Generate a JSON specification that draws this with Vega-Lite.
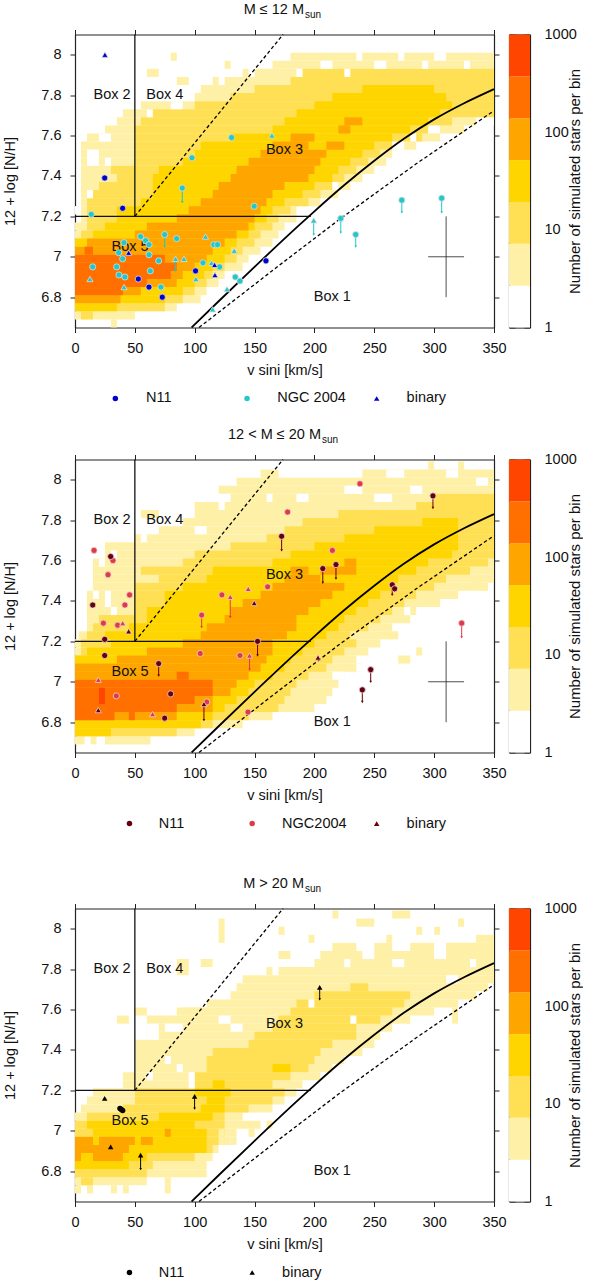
{"$schema":"https://vega.github.io/schema/vega-lite/v6.json","padding":{"left":2,"top":1.5,"right":0,"bottom":0},"config":{"font":"Liberation Sans","view":{"stroke":null},"axis":{"labelFont":"Liberation Sans","titleFont":"Liberation Sans","labelFontSize":14.5,"titleFontSize":14.5,"titleFontWeight":"normal","labelColor":"#111","titleColor":"#111","domainColor":"#222","tickColor":"#222","domainWidth":1.2,"tickWidth":1,"tickSize":5,"grid":false,"zindex":1,"labelFlush":false,"labelOverlap":false},"text":{"font":"Liberation Sans","fontSize":14.5,"color":"#111"}},
"datasets":{
"lines":[
{"g":"curve","v":97.4,"n":6.65},{"g":"curve","v":120,"n":6.78},{"g":"curve","v":150,"n":6.95},{"g":"curve","v":187,"n":7.155},{"g":"curve","v":200,"n":7.225},{"g":"curve","v":225,"n":7.355},{"g":"curve","v":250,"n":7.475},{"g":"curve","v":275,"n":7.585},{"g":"curve","v":300,"n":7.68},{"g":"curve","v":325,"n":7.76},{"g":"curve","v":350,"n":7.83},
{"g":"dl","v":103.6,"n":6.65},{"g":"dl","v":170,"n":6.955},{"g":"dl","v":222,"n":7.19},{"g":"dl","v":285,"n":7.46},{"g":"dl","v":350,"n":7.723},
{"g":"du","v":50,"n":7.2},{"g":"du","v":173.8,"n":8.1},
{"g":"vl","v":50,"n":7.2},{"g":"vl","v":50,"n":8.1},
{"g":"hl","v":0,"n":7.2},{"g":"hl","v":197,"n":7.2},
{"g":"ch","v":295,"n":7.0},{"g":"ch","v":325,"n":7.0},{"g":"cv","v":310,"n":6.8},{"g":"cv","v":310,"n":7.2}],
"boxes":[{"v":31,"n":7.8,"l":"Box 2"},{"v":75,"n":7.8,"l":"Box 4"},{"v":175,"n":7.53,"l":"Box 3"},{"v":46,"n":7.05,"l":"Box 5"},{"v":215,"n":6.8,"l":"Box 1"}],
"bands":[{"a":1,"b":2.68,"c":0,"x":0,"x2":1},{"a":2.68,"b":7.2,"c":1,"x":0,"x2":1},{"a":7.2,"b":19.3,"c":2,"x":0,"x2":1},{"a":19.3,"b":51.8,"c":3,"x":0,"x2":1},{"a":51.8,"b":139,"c":4,"x":0,"x2":1},{"a":139,"b":373,"c":5,"x":0,"x2":1},{"a":373,"b":1000,"c":6,"x":0,"x2":1}],
"h1":[
{"x":30,"x2":35,"y":6.65,"y2":6.69,"c":1},{"x":0,"x2":50,"y":6.69,"y2":6.73,"c":1},{"x":0,"x2":85,"y":6.73,"y2":6.77,"c":1},{"x":0,"x2":105,"y":6.77,"y2":6.81,"c":1},{"x":0,"x2":110,"y":6.81,"y2":6.85,"c":1},{"x":0,"x2":120,"y":6.85,"y2":6.89,"c":1},{"x":0,"x2":125,"y":6.89,"y2":6.93,"c":1},{"x":0,"x2":140,"y":6.93,"y2":6.97,"c":1},{"x":0,"x2":145,"y":6.97,"y2":7.01,"c":1},{"x":0,"x2":155,"y":7.01,"y2":7.05,"c":1},{"x":0,"x2":165,"y":7.05,"y2":7.09,"c":1},{"x":0,"x2":170,"y":7.09,"y2":7.13,"c":1},{"x":0,"x2":175,"y":7.13,"y2":7.17,"c":1},{"x":5,"x2":185,"y":7.17,"y2":7.21,"c":1},{"x":0,"x2":185,"y":7.21,"y2":7.25,"c":1},{"x":5,"x2":205,"y":7.25,"y2":7.29,"c":1},{"x":5,"x2":220,"y":7.29,"y2":7.33,"c":1},{"x":5,"x2":230,"y":7.33,"y2":7.37,"c":1},{"x":5,"x2":240,"y":7.37,"y2":7.41,"c":1},{"x":5,"x2":250,"y":7.41,"y2":7.45,"c":1},{"x":5,"x2":260,"y":7.45,"y2":7.49,"c":1},{"x":5,"x2":265,"y":7.49,"y2":7.53,"c":1},{"x":5,"x2":285,"y":7.53,"y2":7.57,"c":1},{"x":10,"x2":305,"y":7.57,"y2":7.61,"c":1},{"x":25,"x2":325,"y":7.61,"y2":7.65,"c":1},{"x":30,"x2":335,"y":7.65,"y2":7.69,"c":1},{"x":40,"x2":350,"y":7.69,"y2":7.73,"c":1},{"x":55,"x2":350,"y":7.73,"y2":7.77,"c":1},{"x":100,"x2":350,"y":7.77,"y2":7.81,"c":1},{"x":105,"x2":350,"y":7.81,"y2":7.85,"c":1},{"x":125,"x2":350,"y":7.85,"y2":7.89,"c":1},{"x":150,"x2":350,"y":7.89,"y2":7.93,"c":1},{"x":165,"x2":350,"y":7.93,"y2":7.97,"c":1},{"x":180,"x2":350,"y":7.97,"y2":8.01,"c":1},
{"x":5,"x2":15,"y":6.69,"y2":6.73,"c":2},{"x":0,"x2":75,"y":6.73,"y2":6.77,"c":2},{"x":0,"x2":90,"y":6.77,"y2":6.81,"c":2},{"x":0,"x2":100,"y":6.81,"y2":6.85,"c":2},{"x":0,"x2":110,"y":6.85,"y2":6.89,"c":2},{"x":0,"x2":115,"y":6.89,"y2":6.93,"c":2},{"x":0,"x2":125,"y":6.93,"y2":6.97,"c":2},{"x":0,"x2":135,"y":6.97,"y2":7.01,"c":2},{"x":0,"x2":140,"y":7.01,"y2":7.05,"c":2},{"x":0,"x2":150,"y":7.05,"y2":7.09,"c":2},{"x":5,"x2":155,"y":7.09,"y2":7.13,"c":2},{"x":10,"x2":165,"y":7.13,"y2":7.17,"c":2},{"x":10,"x2":170,"y":7.17,"y2":7.21,"c":2},{"x":10,"x2":180,"y":7.21,"y2":7.25,"c":2},{"x":10,"x2":195,"y":7.25,"y2":7.29,"c":2},{"x":15,"x2":205,"y":7.29,"y2":7.33,"c":2},{"x":20,"x2":215,"y":7.33,"y2":7.37,"c":2},{"x":35,"x2":225,"y":7.37,"y2":7.41,"c":2},{"x":30,"x2":235,"y":7.41,"y2":7.45,"c":2},{"x":50,"x2":245,"y":7.45,"y2":7.49,"c":2},{"x":50,"x2":255,"y":7.49,"y2":7.53,"c":2},{"x":50,"x2":270,"y":7.53,"y2":7.57,"c":2},{"x":50,"x2":290,"y":7.57,"y2":7.61,"c":2},{"x":50,"x2":305,"y":7.61,"y2":7.65,"c":2},{"x":55,"x2":315,"y":7.65,"y2":7.69,"c":2},{"x":60,"x2":350,"y":7.69,"y2":7.73,"c":2},{"x":100,"x2":350,"y":7.73,"y2":7.77,"c":2},{"x":130,"x2":350,"y":7.77,"y2":7.81,"c":2},{"x":150,"x2":350,"y":7.81,"y2":7.85,"c":2},{"x":180,"x2":350,"y":7.85,"y2":7.89,"c":2},{"x":190,"x2":350,"y":7.89,"y2":7.93,"c":2},
{"x":0,"x2":35,"y":6.73,"y2":6.77,"c":3},{"x":0,"x2":75,"y":6.77,"y2":6.81,"c":3},{"x":0,"x2":90,"y":6.81,"y2":6.85,"c":3},{"x":0,"x2":100,"y":6.85,"y2":6.89,"c":3},{"x":0,"x2":108,"y":6.89,"y2":6.93,"c":3},{"x":0,"x2":115,"y":6.93,"y2":6.97,"c":3},{"x":0,"x2":125,"y":6.97,"y2":7.01,"c":3},{"x":0,"x2":130,"y":7.01,"y2":7.05,"c":3},{"x":0,"x2":135,"y":7.05,"y2":7.09,"c":3},{"x":15,"x2":145,"y":7.09,"y2":7.13,"c":3},{"x":25,"x2":150,"y":7.13,"y2":7.17,"c":3},{"x":35,"x2":160,"y":7.17,"y2":7.21,"c":3},{"x":35,"x2":165,"y":7.21,"y2":7.25,"c":3},{"x":55,"x2":175,"y":7.25,"y2":7.29,"c":3},{"x":65,"x2":190,"y":7.29,"y2":7.33,"c":3},{"x":65,"x2":200,"y":7.33,"y2":7.37,"c":3},{"x":65,"x2":215,"y":7.37,"y2":7.41,"c":3},{"x":70,"x2":220,"y":7.41,"y2":7.45,"c":3},{"x":90,"x2":230,"y":7.45,"y2":7.49,"c":3},{"x":100,"x2":240,"y":7.49,"y2":7.53,"c":3},{"x":105,"x2":250,"y":7.53,"y2":7.57,"c":3},{"x":130,"x2":265,"y":7.57,"y2":7.61,"c":3},{"x":165,"x2":280,"y":7.61,"y2":7.65,"c":3},{"x":175,"x2":295,"y":7.65,"y2":7.69,"c":3},{"x":185,"x2":305,"y":7.69,"y2":7.73,"c":3},{"x":200,"x2":315,"y":7.73,"y2":7.77,"c":3},{"x":215,"x2":310,"y":7.77,"y2":7.81,"c":3},{"x":240,"x2":300,"y":7.81,"y2":7.85,"c":3},
{"x":0,"x2":38,"y":6.77,"y2":6.81,"c":4},{"x":0,"x2":55,"y":6.81,"y2":6.85,"c":4},{"x":0,"x2":85,"y":6.85,"y2":6.89,"c":4},{"x":0,"x2":90,"y":6.89,"y2":6.93,"c":4},{"x":0,"x2":100,"y":6.93,"y2":6.97,"c":4},{"x":0,"x2":110,"y":6.97,"y2":7.01,"c":4},{"x":0,"x2":115,"y":7.01,"y2":7.05,"c":4},{"x":10,"x2":125,"y":7.05,"y2":7.09,"c":4},{"x":50,"x2":135,"y":7.09,"y2":7.13,"c":4},{"x":60,"x2":145,"y":7.13,"y2":7.17,"c":4},{"x":85,"x2":150,"y":7.17,"y2":7.21,"c":4},{"x":95,"x2":155,"y":7.21,"y2":7.25,"c":4},{"x":105,"x2":160,"y":7.25,"y2":7.29,"c":4},{"x":115,"x2":165,"y":7.29,"y2":7.33,"c":4},{"x":120,"x2":175,"y":7.33,"y2":7.37,"c":4},{"x":130,"x2":195,"y":7.37,"y2":7.41,"c":4},{"x":135,"x2":200,"y":7.41,"y2":7.45,"c":4},{"x":145,"x2":205,"y":7.45,"y2":7.49,"c":4},{"x":155,"x2":210,"y":7.49,"y2":7.53,"c":4},{"x":165,"x2":195,"y":7.53,"y2":7.57,"c":4},{"x":210,"x2":225,"y":7.53,"y2":7.57,"c":4},{"x":180,"x2":200,"y":7.57,"y2":7.61,"c":4},{"x":220,"x2":230,"y":7.61,"y2":7.65,"c":4},{"x":225,"x2":240,"y":7.65,"y2":7.69,"c":4},
{"x":0,"x2":40,"y":6.81,"y2":6.85,"c":5},{"x":0,"x2":60,"y":6.85,"y2":6.89,"c":5},{"x":0,"x2":80,"y":6.89,"y2":6.93,"c":5},{"x":0,"x2":85,"y":6.93,"y2":6.97,"c":5},{"x":0,"x2":75,"y":6.97,"y2":7.01,"c":5},{"x":8,"x2":15,"y":7.01,"y2":7.05,"c":5},
{"x":0,"x2":5,"y":7.21,"y2":7.25,"c":0},{"x":10,"x2":15,"y":7.29,"y2":7.33,"c":0},{"x":10,"x2":20,"y":7.45,"y2":7.53,"c":0},{"x":25,"x2":30,"y":7.45,"y2":7.49,"c":0},{"x":20,"x2":30,"y":7.57,"y2":7.61,"c":0},{"x":30,"x2":35,"y":7.65,"y2":7.69,"c":0},{"x":60,"x2":65,"y":7.69,"y2":7.73,"c":0},{"x":80,"x2":90,"y":7.73,"y2":7.77,"c":0},{"x":115,"x2":120,"y":7.85,"y2":7.89,"c":1},{"x":140,"x2":145,"y":7.89,"y2":7.93,"c":1},{"x":80,"x2":85,"y":7.97,"y2":8.01,"c":1},{"x":60,"x2":70,"y":7.89,"y2":7.93,"c":1},{"x":85,"x2":95,"y":7.85,"y2":7.89,"c":1},{"x":125,"x2":130,"y":7.93,"y2":7.97,"c":1},{"x":185,"x2":190,"y":7.89,"y2":7.93,"c":0},{"x":205,"x2":215,"y":7.93,"y2":7.97,"c":0},{"x":225,"x2":230,"y":7.89,"y2":7.93,"c":0},{"x":235,"x2":240,"y":7.97,"y2":8.01,"c":0},{"x":250,"x2":260,"y":7.93,"y2":7.97,"c":0},{"x":270,"x2":275,"y":7.97,"y2":8.01,"c":0},{"x":290,"x2":295,"y":7.93,"y2":7.97,"c":0},{"x":300,"x2":310,"y":7.97,"y2":8.01,"c":0},{"x":325,"x2":330,"y":7.93,"y2":7.97,"c":0},{"x":345,"x2":350,"y":7.65,"y2":7.69,"c":0},{"x":280,"x2":285,"y":7.57,"y2":7.61,"c":0},{"x":265,"x2":275,"y":7.53,"y2":7.57,"c":0},{"x":295,"x2":305,"y":7.61,"y2":7.65,"c":0},{"x":215,"x2":220,"y":7.33,"y2":7.37,"c":0}],
"h2":[
{"x":0,"x2":8,"y":6.69,"y2":6.73,"c":1},{"x":13,"x2":18,"y":6.69,"y2":6.73,"c":1},{"x":25,"x2":63,"y":6.69,"y2":6.73,"c":1},{"x":0,"x2":100,"y":6.73,"y2":6.77,"c":1},{"x":0,"x2":140,"y":6.77,"y2":6.81,"c":1},{"x":0,"x2":165,"y":6.81,"y2":6.85,"c":1},{"x":0,"x2":200,"y":6.85,"y2":6.89,"c":1},{"x":0,"x2":210,"y":6.89,"y2":6.93,"c":1},{"x":0,"x2":215,"y":6.93,"y2":6.97,"c":1},{"x":0,"x2":220,"y":6.97,"y2":7.01,"c":1},{"x":0,"x2":225,"y":7.01,"y2":7.05,"c":1},{"x":0,"x2":240,"y":7.05,"y2":7.09,"c":1},{"x":0,"x2":235,"y":7.09,"y2":7.13,"c":1},{"x":0,"x2":245,"y":7.13,"y2":7.17,"c":1},{"x":0,"x2":255,"y":7.17,"y2":7.21,"c":1},{"x":3,"x2":265,"y":7.21,"y2":7.25,"c":1},{"x":10,"x2":265,"y":7.25,"y2":7.29,"c":1},{"x":10,"x2":280,"y":7.29,"y2":7.33,"c":1},{"x":10,"x2":285,"y":7.33,"y2":7.37,"c":1},{"x":10,"x2":305,"y":7.37,"y2":7.41,"c":1},{"x":10,"x2":320,"y":7.41,"y2":7.45,"c":1},{"x":15,"x2":335,"y":7.45,"y2":7.49,"c":1},{"x":15,"x2":350,"y":7.49,"y2":7.53,"c":1},{"x":15,"x2":350,"y":7.53,"y2":7.57,"c":1},{"x":15,"x2":350,"y":7.57,"y2":7.61,"c":1},{"x":25,"x2":350,"y":7.61,"y2":7.65,"c":1},{"x":25,"x2":350,"y":7.65,"y2":7.69,"c":1},{"x":50,"x2":350,"y":7.69,"y2":7.73,"c":1},{"x":70,"x2":350,"y":7.73,"y2":7.77,"c":1},{"x":90,"x2":350,"y":7.77,"y2":7.81,"c":1},{"x":55,"x2":70,"y":7.81,"y2":7.85,"c":1},{"x":100,"x2":350,"y":7.81,"y2":7.85,"c":1},{"x":100,"x2":350,"y":7.85,"y2":7.89,"c":1},{"x":130,"x2":350,"y":7.89,"y2":7.93,"c":1},{"x":120,"x2":350,"y":7.93,"y2":7.97,"c":1},{"x":135,"x2":350,"y":7.97,"y2":8.01,"c":1},{"x":155,"x2":170,"y":8.01,"y2":8.05,"c":1},{"x":240,"x2":350,"y":8.01,"y2":8.05,"c":1},{"x":295,"x2":300,"y":8.05,"y2":8.09,"c":1},{"x":320,"x2":325,"y":8.05,"y2":8.09,"c":1},
{"x":0,"x2":85,"y":6.73,"y2":6.77,"c":2},{"x":0,"x2":115,"y":6.77,"y2":6.81,"c":2},{"x":0,"x2":145,"y":6.81,"y2":6.85,"c":2},{"x":0,"x2":170,"y":6.85,"y2":6.89,"c":2},{"x":0,"x2":175,"y":6.89,"y2":6.93,"c":2},{"x":0,"x2":180,"y":6.93,"y2":6.97,"c":2},{"x":0,"x2":185,"y":6.97,"y2":7.01,"c":2},{"x":0,"x2":195,"y":7.01,"y2":7.05,"c":2},{"x":0,"x2":210,"y":7.05,"y2":7.09,"c":2},{"x":0,"x2":215,"y":7.09,"y2":7.13,"c":2},{"x":5,"x2":225,"y":7.13,"y2":7.17,"c":2},{"x":5,"x2":235,"y":7.17,"y2":7.21,"c":2},{"x":10,"x2":230,"y":7.21,"y2":7.25,"c":2},{"x":15,"x2":245,"y":7.25,"y2":7.29,"c":2},{"x":20,"x2":255,"y":7.29,"y2":7.33,"c":2},{"x":50,"x2":265,"y":7.33,"y2":7.37,"c":2},{"x":50,"x2":275,"y":7.37,"y2":7.41,"c":2},{"x":50,"x2":285,"y":7.41,"y2":7.45,"c":2},{"x":50,"x2":300,"y":7.45,"y2":7.49,"c":2},{"x":70,"x2":310,"y":7.49,"y2":7.53,"c":2},{"x":55,"x2":330,"y":7.53,"y2":7.57,"c":2},{"x":90,"x2":345,"y":7.57,"y2":7.61,"c":2},{"x":100,"x2":350,"y":7.61,"y2":7.65,"c":2},{"x":130,"x2":350,"y":7.65,"y2":7.69,"c":2},{"x":160,"x2":350,"y":7.69,"y2":7.73,"c":2},{"x":175,"x2":350,"y":7.73,"y2":7.77,"c":2},{"x":190,"x2":350,"y":7.77,"y2":7.81,"c":2},{"x":220,"x2":350,"y":7.81,"y2":7.85,"c":2},{"x":285,"x2":350,"y":7.85,"y2":7.89,"c":2},{"x":300,"x2":350,"y":7.89,"y2":7.93,"c":2},
{"x":0,"x2":30,"y":6.73,"y2":6.77,"c":3},{"x":0,"x2":105,"y":6.77,"y2":6.81,"c":3},{"x":0,"x2":115,"y":6.81,"y2":6.85,"c":3},{"x":0,"x2":125,"y":6.85,"y2":6.89,"c":3},{"x":0,"x2":135,"y":6.89,"y2":6.93,"c":3},{"x":0,"x2":145,"y":6.93,"y2":6.97,"c":3},{"x":0,"x2":150,"y":6.97,"y2":7.01,"c":3},{"x":0,"x2":165,"y":7.01,"y2":7.05,"c":3},{"x":0,"x2":175,"y":7.05,"y2":7.09,"c":3},{"x":0,"x2":180,"y":7.09,"y2":7.13,"c":3},{"x":10,"x2":190,"y":7.13,"y2":7.17,"c":3},{"x":30,"x2":200,"y":7.17,"y2":7.21,"c":3},{"x":25,"x2":210,"y":7.21,"y2":7.25,"c":3},{"x":45,"x2":220,"y":7.25,"y2":7.29,"c":3},{"x":60,"x2":225,"y":7.29,"y2":7.33,"c":3},{"x":60,"x2":235,"y":7.33,"y2":7.37,"c":3},{"x":75,"x2":245,"y":7.37,"y2":7.41,"c":3},{"x":75,"x2":255,"y":7.41,"y2":7.45,"c":3},{"x":90,"x2":265,"y":7.45,"y2":7.49,"c":3},{"x":110,"x2":270,"y":7.49,"y2":7.53,"c":3},{"x":115,"x2":285,"y":7.53,"y2":7.57,"c":3},{"x":165,"x2":295,"y":7.57,"y2":7.61,"c":3},{"x":180,"x2":315,"y":7.61,"y2":7.65,"c":3},{"x":200,"x2":320,"y":7.65,"y2":7.69,"c":3},{"x":225,"x2":320,"y":7.69,"y2":7.73,"c":3},{"x":250,"x2":320,"y":7.73,"y2":7.77,"c":3},{"x":290,"x2":320,"y":7.77,"y2":7.81,"c":3},
{"x":0,"x2":85,"y":6.81,"y2":6.85,"c":4},{"x":0,"x2":115,"y":6.85,"y2":6.89,"c":4},{"x":0,"x2":115,"y":6.89,"y2":6.93,"c":4},{"x":0,"x2":130,"y":6.93,"y2":6.97,"c":4},{"x":0,"x2":135,"y":6.97,"y2":7.01,"c":4},{"x":0,"x2":145,"y":7.01,"y2":7.05,"c":4},{"x":0,"x2":155,"y":7.05,"y2":7.09,"c":4},{"x":35,"x2":160,"y":7.09,"y2":7.13,"c":4},{"x":60,"x2":165,"y":7.13,"y2":7.17,"c":4},{"x":90,"x2":165,"y":7.17,"y2":7.21,"c":4},{"x":105,"x2":177,"y":7.21,"y2":7.25,"c":4},{"x":110,"x2":185,"y":7.25,"y2":7.29,"c":4},{"x":125,"x2":185,"y":7.29,"y2":7.33,"c":4},{"x":130,"x2":195,"y":7.33,"y2":7.37,"c":4},{"x":140,"x2":205,"y":7.37,"y2":7.41,"c":4},{"x":155,"x2":215,"y":7.41,"y2":7.45,"c":4},{"x":165,"x2":225,"y":7.45,"y2":7.49,"c":4},{"x":175,"x2":205,"y":7.49,"y2":7.53,"c":4},{"x":180,"x2":195,"y":7.53,"y2":7.57,"c":4},{"x":205,"x2":235,"y":7.53,"y2":7.57,"c":4},{"x":225,"x2":235,"y":7.57,"y2":7.61,"c":4},
{"x":0,"x2":33,"y":6.81,"y2":6.85,"c":5},{"x":45,"x2":50,"y":6.81,"y2":6.85,"c":5},{"x":0,"x2":85,"y":6.85,"y2":6.89,"c":5},{"x":0,"x2":100,"y":6.89,"y2":6.93,"c":5},{"x":0,"x2":115,"y":6.93,"y2":6.97,"c":5},{"x":0,"x2":115,"y":6.97,"y2":7.01,"c":5},{"x":85,"x2":95,"y":7.01,"y2":7.05,"c":5},
{"x":20,"x2":25,"y":6.89,"y2":6.97,"c":6},
{"x":15,"x2":20,"y":7.41,"y2":7.45,"c":0},{"x":25,"x2":30,"y":7.37,"y2":7.45,"c":0},{"x":30,"x2":35,"y":7.33,"y2":7.37,"c":0},{"x":20,"x2":25,"y":7.57,"y2":7.61,"c":0},{"x":30,"x2":35,"y":7.61,"y2":7.65,"c":0},{"x":55,"x2":60,"y":7.69,"y2":7.73,"c":0},{"x":100,"x2":110,"y":7.73,"y2":7.77,"c":0},{"x":120,"x2":125,"y":7.85,"y2":7.89,"c":0},{"x":160,"x2":165,"y":7.89,"y2":7.93,"c":0},{"x":185,"x2":195,"y":7.89,"y2":7.93,"c":0},{"x":225,"x2":240,"y":7.93,"y2":7.97,"c":0},{"x":250,"x2":265,"y":7.89,"y2":7.93,"c":0},{"x":280,"x2":290,"y":7.93,"y2":7.97,"c":0},{"x":310,"x2":320,"y":8.01,"y2":8.05,"c":0},{"x":260,"x2":275,"y":8.01,"y2":8.05,"c":0},{"x":335,"x2":345,"y":7.97,"y2":8.01,"c":0},{"x":275,"x2":280,"y":7.33,"y2":7.37,"c":0},{"x":235,"x2":245,"y":7.05,"y2":7.09,"c":0},{"x":215,"x2":225,"y":7.01,"y2":7.05,"c":0},{"x":260,"x2":270,"y":7.21,"y2":7.25,"c":1},{"x":270,"x2":280,"y":7.09,"y2":7.13,"c":1},{"x":285,"x2":290,"y":7.13,"y2":7.17,"c":1},{"x":330,"x2":340,"y":7.49,"y2":7.53,"c":1},{"x":335,"x2":345,"y":7.45,"y2":7.49,"c":1}],
"h3":[
{"x":0,"x2":5,"y":6.69,"y2":6.73,"c":1},{"x":10,"x2":15,"y":6.69,"y2":6.73,"c":1},{"x":30,"x2":35,"y":6.69,"y2":6.73,"c":1},{"x":40,"x2":45,"y":6.69,"y2":6.73,"c":1},{"x":75,"x2":80,"y":6.69,"y2":6.73,"c":1},{"x":0,"x2":60,"y":6.73,"y2":6.77,"c":1},{"x":75,"x2":80,"y":6.73,"y2":6.77,"c":1},{"x":0,"x2":110,"y":6.77,"y2":6.81,"c":1},{"x":0,"x2":110,"y":6.81,"y2":6.85,"c":1},{"x":0,"x2":115,"y":6.85,"y2":6.89,"c":1},{"x":0,"x2":120,"y":6.89,"y2":6.93,"c":1},{"x":0,"x2":130,"y":6.93,"y2":6.97,"c":1},{"x":0,"x2":135,"y":6.97,"y2":7.01,"c":1},{"x":0,"x2":155,"y":7.01,"y2":7.05,"c":1},{"x":0,"x2":140,"y":7.05,"y2":7.09,"c":1},{"x":5,"x2":165,"y":7.09,"y2":7.13,"c":1},{"x":10,"x2":175,"y":7.13,"y2":7.17,"c":1},{"x":15,"x2":185,"y":7.17,"y2":7.21,"c":1},{"x":40,"x2":190,"y":7.21,"y2":7.25,"c":1},{"x":40,"x2":205,"y":7.25,"y2":7.29,"c":1},{"x":50,"x2":215,"y":7.29,"y2":7.33,"c":1},{"x":50,"x2":225,"y":7.33,"y2":7.37,"c":1},{"x":50,"x2":240,"y":7.37,"y2":7.41,"c":1},{"x":50,"x2":250,"y":7.41,"y2":7.45,"c":1},{"x":60,"x2":255,"y":7.45,"y2":7.49,"c":1},{"x":60,"x2":265,"y":7.49,"y2":7.53,"c":1},{"x":60,"x2":280,"y":7.53,"y2":7.57,"c":1},{"x":85,"x2":300,"y":7.57,"y2":7.61,"c":1},{"x":110,"x2":320,"y":7.61,"y2":7.65,"c":1},{"x":130,"x2":335,"y":7.65,"y2":7.69,"c":1},{"x":135,"x2":345,"y":7.69,"y2":7.73,"c":1},{"x":140,"x2":350,"y":7.73,"y2":7.77,"c":1},{"x":170,"x2":350,"y":7.77,"y2":7.81,"c":1},{"x":200,"x2":350,"y":7.81,"y2":7.85,"c":1},{"x":205,"x2":350,"y":7.85,"y2":7.89,"c":1},{"x":310,"x2":350,"y":7.89,"y2":7.93,"c":1},{"x":335,"x2":350,"y":7.93,"y2":7.97,"c":1},
{"x":5,"x2":15,"y":6.73,"y2":6.77,"c":2},{"x":0,"x2":60,"y":6.77,"y2":6.81,"c":2},{"x":0,"x2":65,"y":6.81,"y2":6.85,"c":2},{"x":0,"x2":100,"y":6.85,"y2":6.89,"c":2},{"x":0,"x2":115,"y":6.89,"y2":6.93,"c":2},{"x":0,"x2":120,"y":6.93,"y2":6.97,"c":2},{"x":0,"x2":125,"y":6.97,"y2":7.01,"c":2},{"x":0,"x2":125,"y":7.01,"y2":7.05,"c":2},{"x":10,"x2":125,"y":7.05,"y2":7.09,"c":2},{"x":40,"x2":145,"y":7.09,"y2":7.13,"c":2},{"x":50,"x2":165,"y":7.13,"y2":7.17,"c":2},{"x":50,"x2":175,"y":7.17,"y2":7.21,"c":2},{"x":100,"x2":165,"y":7.21,"y2":7.25,"c":2},{"x":100,"x2":180,"y":7.25,"y2":7.29,"c":2},{"x":110,"x2":195,"y":7.29,"y2":7.33,"c":2},{"x":110,"x2":200,"y":7.33,"y2":7.37,"c":2},{"x":115,"x2":205,"y":7.37,"y2":7.41,"c":2},{"x":145,"x2":215,"y":7.41,"y2":7.45,"c":2},{"x":150,"x2":235,"y":7.45,"y2":7.49,"c":2},{"x":165,"x2":235,"y":7.49,"y2":7.53,"c":2},{"x":170,"x2":255,"y":7.53,"y2":7.57,"c":2},{"x":180,"x2":265,"y":7.57,"y2":7.61,"c":2},{"x":185,"x2":275,"y":7.61,"y2":7.65,"c":2},{"x":200,"x2":280,"y":7.65,"y2":7.69,"c":2},{"x":230,"x2":245,"y":7.69,"y2":7.73,"c":2},
{"x":0,"x2":45,"y":6.81,"y2":6.85,"c":3},{"x":0,"x2":60,"y":6.85,"y2":6.89,"c":3},{"x":0,"x2":110,"y":6.89,"y2":6.93,"c":3},{"x":0,"x2":110,"y":6.93,"y2":6.97,"c":3},{"x":15,"x2":110,"y":6.97,"y2":7.01,"c":3},{"x":10,"x2":100,"y":7.01,"y2":7.05,"c":3},{"x":70,"x2":115,"y":7.05,"y2":7.09,"c":3},{"x":105,"x2":125,"y":7.09,"y2":7.13,"c":3},{"x":110,"x2":125,"y":7.13,"y2":7.17,"c":3},{"x":100,"x2":130,"y":7.17,"y2":7.21,"c":3},{"x":115,"x2":125,"y":7.21,"y2":7.25,"c":3},{"x":165,"x2":180,"y":7.29,"y2":7.33,"c":3},
{"x":0,"x2":5,"y":6.85,"y2":6.89,"c":4},{"x":15,"x2":40,"y":6.85,"y2":6.89,"c":4},{"x":0,"x2":45,"y":6.89,"y2":6.93,"c":4},{"x":0,"x2":15,"y":6.93,"y2":6.97,"c":4},{"x":20,"x2":50,"y":6.93,"y2":6.97,"c":4},{"x":55,"x2":65,"y":6.93,"y2":6.97,"c":4},{"x":75,"x2":80,"y":6.97,"y2":7.01,"c":4},
{"x":60,"x2":65,"y":7.25,"y2":7.29,"c":0},{"x":75,"x2":80,"y":7.33,"y2":7.37,"c":0},{"x":85,"x2":90,"y":7.29,"y2":7.33,"c":0},{"x":95,"x2":100,"y":7.21,"y2":7.29,"c":0},{"x":60,"x2":70,"y":7.45,"y2":7.53,"c":0},{"x":75,"x2":90,"y":7.49,"y2":7.53,"c":0},{"x":120,"x2":130,"y":7.53,"y2":7.57,"c":0},{"x":130,"x2":140,"y":7.49,"y2":7.53,"c":0},{"x":90,"x2":110,"y":7.57,"y2":7.61,"c":1},{"x":50,"x2":60,"y":7.57,"y2":7.61,"c":1},{"x":35,"x2":45,"y":7.53,"y2":7.57,"c":1},{"x":85,"x2":95,"y":7.77,"y2":7.85,"c":1},{"x":105,"x2":115,"y":7.81,"y2":7.85,"c":1},{"x":120,"x2":125,"y":7.93,"y2":8.05,"c":1},{"x":170,"x2":175,"y":7.97,"y2":8.01,"c":1},{"x":170,"x2":180,"y":7.85,"y2":7.89,"c":1},{"x":160,"x2":165,"y":7.77,"y2":7.81,"c":1},{"x":215,"x2":220,"y":8.05,"y2":8.09,"c":1},{"x":265,"x2":280,"y":8.05,"y2":8.09,"c":1},{"x":235,"x2":250,"y":8.01,"y2":8.05,"c":1},{"x":285,"x2":290,"y":7.97,"y2":8.01,"c":1},{"x":320,"x2":325,"y":8.01,"y2":8.05,"c":1},{"x":300,"x2":305,"y":7.97,"y2":8.01,"c":1},{"x":260,"x2":265,"y":7.93,"y2":7.97,"c":1},{"x":195,"x2":200,"y":7.93,"y2":7.97,"c":1},{"x":215,"x2":235,"y":7.89,"y2":7.93,"c":1},{"x":250,"x2":265,"y":7.89,"y2":7.93,"c":1},{"x":280,"x2":300,"y":7.89,"y2":7.93,"c":1},
{"x":240,"x2":250,"y":7.85,"y2":7.89,"c":0},{"x":265,"x2":275,"y":7.81,"y2":7.85,"c":0},{"x":225,"x2":230,"y":7.81,"y2":7.85,"c":0},{"x":300,"x2":310,"y":7.85,"y2":7.89,"c":0},{"x":330,"x2":335,"y":7.81,"y2":7.85,"c":0},{"x":230,"x2":235,"y":7.53,"y2":7.57,"c":0},{"x":195,"x2":200,"y":7.61,"y2":7.65,"c":0},{"x":310,"x2":320,"y":7.73,"y2":7.77,"c":0},{"x":270,"x2":275,"y":7.45,"y2":7.49,"c":0},{"x":315,"x2":320,"y":7.53,"y2":7.61,"c":1},{"x":205,"x2":210,"y":7.05,"y2":7.09,"c":0},{"x":120,"x2":125,"y":6.97,"y2":7.01,"c":1},{"x":130,"x2":135,"y":6.93,"y2":6.97,"c":1},{"x":145,"x2":150,"y":6.97,"y2":7.01,"c":1},{"x":160,"x2":165,"y":7.01,"y2":7.05,"c":1}],
"p1":[
{"v":14.8,"n":6.95,"s":"G","t":"c"},{"v":13.6,"n":7.21,"s":"G","t":"c"},{"v":34.8,"n":6.95,"s":"G","t":"c"},{"v":36.7,"n":6.91,"s":"G","t":"c"},{"v":41.7,"n":6.9,"s":"G","t":"c"},{"v":39.8,"n":6.99,"s":"G","t":"c"},{"v":36.5,"n":7.02,"s":"G","t":"c"},{"v":40.9,"n":7.07,"s":"G","t":"c"},{"v":54.8,"n":7.1,"s":"G","t":"c"},{"v":59,"n":7.08,"s":"G","t":"c"},{"v":61.8,"n":7.06,"s":"G","t":"c"},{"v":61.8,"n":7.01,"s":"G","t":"c"},{"v":62.9,"n":6.93,"s":"G","t":"c"},{"v":69.9,"n":6.98,"s":"G","t":"c"},{"v":71.8,"n":6.85,"s":"G","t":"c"},{"v":74.9,"n":7.11,"n2":7.05,"s":"G","t":"c"},{"v":84.9,"n":7.09,"s":"G","t":"c"},{"v":106.9,"n":6.97,"s":"G","t":"c"},{"v":116,"n":7.06,"s":"G","t":"c"},{"v":119,"n":7.06,"s":"G","t":"c"},{"v":120.8,"n":6.95,"s":"G","t":"c"},{"v":133.9,"n":6.9,"s":"G","t":"c"},{"v":137.8,"n":6.88,"s":"G","t":"c"},{"v":149.7,"n":7.25,"s":"G","t":"c"},{"v":97.7,"n":7.49,"s":"G","t":"c"},{"v":89.6,"n":7.34,"n2":7.27,"s":"G","t":"c"},{"v":130.8,"n":7.59,"s":"G","t":"c"},{"v":222,"n":7.19,"n2":7.12,"s":"G","t":"c"},{"v":234.5,"n":7.11,"n2":7.05,"s":"G","t":"c"},{"v":273,"n":7.28,"n2":7.22,"s":"G","t":"c"},{"v":306.3,"n":7.29,"n2":7.22,"s":"G","t":"c"},
{"v":12.5,"n":6.89,"s":"G","t":"t"},{"v":41,"n":6.85,"s":"G","t":"t"},{"v":84,"n":6.99,"n2":6.93,"s":"G","t":"t"},{"v":91,"n":6.99,"s":"G","t":"t"},{"v":101,"n":6.89,"s":"G","t":"t"},{"v":109,"n":7.1,"s":"G","t":"t"},{"v":114,"n":6.97,"s":"G","t":"t"},{"v":133,"n":7.03,"s":"G","t":"t"},{"v":127,"n":6.84,"s":"G","t":"t"},{"v":115,"n":6.74,"s":"G","t":"t"},{"v":164.5,"n":7.6,"s":"G","t":"t"},{"v":199.4,"n":7.18,"n2":7.11,"s":"G","t":"t"},
{"v":39.8,"n":7.24,"s":"N","t":"c"},{"v":24.8,"n":7.39,"s":"N","t":"c"},{"v":52.9,"n":6.89,"s":"N","t":"c"},{"v":61.8,"n":6.85,"s":"N","t":"c"},{"v":72.9,"n":6.8,"s":"N","t":"c"},{"v":100.7,"n":6.93,"s":"N","t":"c"},{"v":159.5,"n":6.98,"s":"N","t":"c"},
{"v":25,"n":8,"s":"N","t":"t"},{"v":44.8,"n":7.02,"s":"N","t":"t"},{"v":116.6,"n":6.96,"s":"N","t":"t"},{"v":116.9,"n":6.91,"s":"N","t":"t"}],
"p2":[
{"v":15.9,"n":7.65,"s":"G","t":"c"},{"v":31.7,"n":7.6,"s":"G","t":"c"},{"v":27.6,"n":7.53,"s":"G","t":"c"},{"v":45.6,"n":7.43,"s":"G","t":"c"},{"v":41.7,"n":7.38,"s":"G","t":"c"},{"v":23.7,"n":7.29,"s":"G","t":"c"},{"v":35.6,"n":7.28,"s":"G","t":"c"},{"v":122.7,"n":7.43,"s":"G","t":"c"},{"v":160.9,"n":7.47,"s":"G","t":"c"},{"v":177.6,"n":7.84,"s":"G","t":"c"},{"v":105.8,"n":7.33,"n2":7.27,"s":"G","t":"c"},{"v":104.6,"n":7.14,"s":"G","t":"c"},{"v":137.8,"n":7.13,"s":"G","t":"c"},{"v":34.5,"n":6.93,"s":"G","t":"c"},{"v":110,"n":6.9,"s":"G","t":"c"},{"v":144.5,"n":6.85,"s":"G","t":"c"},{"v":238,"n":7.98,"s":"G","t":"c"},{"v":215,"n":7.65,"s":"G","t":"c"},{"v":323,"n":7.29,"n2":7.22,"s":"G","t":"c"},
{"v":39.8,"n":7.29,"s":"G","t":"t"},{"v":129.7,"n":7.42,"n2":7.32,"s":"G","t":"t"},{"v":144.7,"n":7.46,"s":"G","t":"t"},{"v":145.8,"n":7.13,"n2":7.06,"s":"G","t":"t"},{"v":19.5,"n":7.01,"s":"G","t":"t"},{"v":64.8,"n":6.84,"s":"G","t":"t"},
{"v":29.8,"n":7.62,"s":"N","t":"c"},{"v":14.8,"n":7.38,"s":"N","t":"c"},{"v":24.8,"n":7.21,"s":"N","t":"c"},{"v":172.6,"n":7.72,"n2":7.65,"s":"N","t":"c"},{"v":152.5,"n":7.2,"n2":7.13,"s":"N","t":"c"},{"v":24.8,"n":7.13,"s":"N","t":"c"},{"v":69.9,"n":7.09,"n2":7.03,"s":"N","t":"c"},{"v":79.9,"n":6.94,"s":"N","t":"c"},{"v":74.9,"n":6.82,"s":"N","t":"c"},{"v":299,"n":7.92,"n2":7.86,"s":"N","t":"c"},{"v":207,"n":7.56,"n2":7.49,"s":"N","t":"c"},{"v":218,"n":7.58,"n2":7.51,"s":"N","t":"c"},{"v":265,"n":7.48,"n2":7.43,"s":"N","t":"c"},{"v":267,"n":7.46,"s":"N","t":"c"},{"v":247,"n":7.06,"n2":7.0,"s":"N","t":"c"},{"v":240,"n":6.96,"n2":6.9,"s":"N","t":"c"},
{"v":44.8,"n":7.25,"s":"N","t":"t"},{"v":149.7,"n":7.39,"s":"N","t":"t"},{"v":19.5,"n":6.86,"s":"N","t":"t"},{"v":107.7,"n":6.89,"n2":6.81,"s":"N","t":"t"},{"v":203,"n":7.12,"s":"N","t":"t"}],
"p3":[
{"v":37.6,"n":7.11,"s":"N","t":"c"},{"v":38.7,"n":7.105,"s":"N","t":"c"},{"v":39.8,"n":7.1,"s":"N","t":"c"},
{"v":24.8,"n":7.16,"s":"N","t":"t"},{"v":29.8,"n":6.92,"s":"N","t":"t"},{"v":54.8,"n":6.88,"n2":6.81,"s":"N","t":"t"},{"v":99.9,"n":7.17,"n2":7.11,"s":"N","t":"t"},{"v":204.4,"n":7.71,"n2":7.65,"s":"N","t":"t"}],
"t1":[{"v":191.3,"n":8.22,"l":"M ≤ 12 M"}],"t2":[{"v":205.5,"n":8.22,"l":"12 < M ≤ 20 M"}],"t3":[{"v":191.3,"n":8.22,"l":"M > 20 M"}],
"l1":[{"x":33.7,"y":0.381,"s":"N","t":"c"},{"x":143.7,"y":0.381,"s":"G","t":"c"},{"x":252,"y":0.381,"s":"N","t":"t"}],
"l1t":[{"x":59.3,"y":0.381,"l":"N11"},{"x":169,"y":0.381,"l":"NGC 2004"},{"x":277,"y":0.381,"l":"binary"}],
"l2":[{"x":45.5,"y":0.602,"s":"N","t":"c"},{"x":148,"y":0.602,"s":"G","t":"c"},{"x":252,"y":0.602,"s":"N","t":"t"}],
"l2t":[{"x":70,"y":0.602,"l":"N11"},{"x":173,"y":0.602,"l":"NGC2004"},{"x":277,"y":0.602,"l":"binary"}],
"l3":[{"x":45.5,"y":0.35,"s":"N","t":"c"},{"x":148,"y":0.35,"s":"N","t":"t"}],
"l3t":[{"x":70,"y":0.35,"l":"N11"},{"x":173,"y":0.35,"l":"binary"}],
"sp":[{"a":1}]
},
"bounds":"flush","align":"each","columns":2,"spacing":{"row":45,"column":15},"resolve":{"scale":{"color":"independent","fill":"independent","shape":"independent"}},
"concat":[
{"width":419,"height":293,"layer":[
{"data":{"name":"h1"},"mark":{"type":"rect"},"encoding":{"x":{"field":"x","type":"quantitative","scale":{"domain":[0,350],"nice":false},"axis":{"values":[0,50,100,150,200,250,300,350],"title":"v sini [km/s]","labelPadding":9,"titlePadding":8}},"x2":{"field":"x2"},"y":{"field":"y","type":"quantitative","scale":{"domain":[6.65,8.1],"nice":false,"zero":false},"axis":{"values":[6.8,7,7.2,7.4,7.6,7.8,8],"format":"~g","title":"12 + log [N/H]","labelPadding":9,"titlePadding":23}},"y2":{"field":"y2"},"fill":{"field":"c","type":"ordinal","scale":{"domain":[0,1,2,3,4,5,6],"range":["#ffffff","#fff0a8","#ffe054","#ffd500","#ffa500","#ff7000","#ff4500"]},"legend":null}}},
{"data":{"name":"lines"},"transform":[{"filter":"datum.g=='vl'"}],"mark":{"type":"line","color":"#111","strokeWidth":1.3},"encoding":{"x":{"field":"v","type":"quantitative","axis":{"orient":"top","values":[0,50,100,150,200,250,300,350],"labels":false,"title":null}},"y":{"field":"n","type":"quantitative","axis":{"orient":"right","values":[6.8,7,7.2,7.4,7.6,7.8,8],"labels":false,"title":null}}}},
{"data":{"name":"lines"},"transform":[{"filter":"datum.g=='hl'"}],"mark":{"type":"line","color":"#111","strokeWidth":1.3},"encoding":{"x":{"field":"v","type":"quantitative","axis":null},"y":{"field":"n","type":"quantitative","axis":null}}},
{"data":{"name":"lines"},"transform":[{"filter":"datum.g=='curve'"}],"mark":{"type":"line","color":"#000","strokeWidth":1.8,"interpolate":"monotone"},"encoding":{"x":{"field":"v","type":"quantitative","axis":null},"y":{"field":"n","type":"quantitative","axis":null}}},
{"data":{"name":"lines"},"transform":[{"filter":"datum.g=='dl'"}],"mark":{"type":"line","color":"#000","strokeWidth":1.3,"strokeDash":[3.5,2.5]},"encoding":{"x":{"field":"v","type":"quantitative","axis":null},"y":{"field":"n","type":"quantitative","axis":null}}},
{"data":{"name":"lines"},"transform":[{"filter":"datum.g=='du'"}],"mark":{"type":"line","color":"#000","strokeWidth":1.3,"strokeDash":[3.5,2.5]},"encoding":{"x":{"field":"v","type":"quantitative","axis":null},"y":{"field":"n","type":"quantitative","axis":null}}},
{"data":{"name":"lines"},"transform":[{"filter":"datum.g=='ch'"}],"mark":{"type":"line","color":"#222","strokeWidth":0.8},"encoding":{"x":{"field":"v","type":"quantitative","axis":null},"y":{"field":"n","type":"quantitative","axis":null}}},
{"data":{"name":"lines"},"transform":[{"filter":"datum.g=='cv'"}],"mark":{"type":"line","color":"#222","strokeWidth":0.8},"encoding":{"x":{"field":"v","type":"quantitative","axis":null},"y":{"field":"n","type":"quantitative","axis":null}}},
{"data":{"name":"boxes"},"mark":{"type":"text"},"encoding":{"x":{"field":"v","type":"quantitative","axis":null},"y":{"field":"n","type":"quantitative","axis":null},"text":{"field":"l"}}},
{"data":{"name":"p1"},"transform":[{"filter":"isValid(datum.n2)"}],"mark":{"type":"rule","strokeWidth":1},"encoding":{"x":{"field":"v","type":"quantitative","axis":null},"y":{"field":"n","type":"quantitative","axis":null},"y2":{"field":"n2"},"color":{"field":"s","type":"nominal","scale":{"domain":["N","G"],"range":["#0000cc","#22c8c8"]},"legend":null}}},
{"data":{"name":"p1"},"transform":[{"filter":"isValid(datum.n2)"}],"mark":{"type":"point","shape":"triangle-down","filled":true,"size":7,"opacity":1},"encoding":{"x":{"field":"v","type":"quantitative","axis":null},"y":{"field":"n2","type":"quantitative","axis":null},"color":{"field":"s","type":"nominal","legend":null}}},
{"data":{"name":"p1"},"mark":{"type":"point","filled":true,"opacity":1,"stroke":"#dddddd","strokeWidth":0.8,"size":38},"encoding":{"x":{"field":"v","type":"quantitative","axis":null},"y":{"field":"n","type":"quantitative","axis":null},"color":{"field":"s","type":"nominal","legend":null},"shape":{"field":"t","type":"nominal","scale":{"domain":["c","t"],"range":["circle","triangle-up"]},"legend":null}}},
{"data":{"name":"t1"},"mark":{"type":"text","align":"right"},"encoding":{"x":{"field":"v","type":"quantitative","axis":null},"y":{"field":"n","type":"quantitative","axis":null},"text":{"field":"l"}}},
{"data":{"name":"t1"},"mark":{"type":"text","align":"left","fontSize":10,"dx":1,"dy":5},"encoding":{"x":{"field":"v","type":"quantitative","axis":null},"y":{"field":"n","type":"quantitative","axis":null},"text":{"value":"sun"}}}
],"resolve":{"axis":{"x":"independent","y":"independent"}}},
{"width":21,"height":293,"data":{"name":"bands"},"layer":[
{"mark":{"type":"rect"},"encoding":{"x":{"field":"x","type":"quantitative","scale":{"domain":[0,1],"nice":false},"axis":{"orient":"bottom","ticks":false,"labels":false,"title":null}},"x2":{"field":"x2"},"y":{"field":"a","type":"quantitative","scale":{"type":"log","domain":[1,1000],"nice":false},"axis":{"orient":"right","values":[1,10,100,1000],"format":"d","tickSize":-6,"labelPadding":20,"title":"Number of simulated stars per bin","titleFontSize":15,"titleAngle":270,"titlePadding":6}},"y2":{"field":"b"},"fill":{"field":"c","type":"ordinal","scale":{"domain":[0,1,2,3,4,5,6],"range":["#ffffff","#fff0a8","#ffe054","#ffd500","#ffa500","#ff7000","#ff4500"]},"legend":null}}},
{"mark":{"type":"rect","opacity":0},"encoding":{"x":{"field":"x","type":"quantitative","axis":{"orient":"top","ticks":false,"labels":false,"title":null}},"x2":{"field":"x2"},"y":{"field":"a","type":"quantitative","axis":{"orient":"left","values":[1,10,100,1000],"tickSize":-6,"labels":false,"title":null}},"y2":{"field":"b"}}},
{"mark":{"type":"rect","opacity":0},"encoding":{"x":{"field":"x","type":"quantitative","axis":null},"x2":{"field":"x2"},"y":{"field":"a","type":"quantitative","axis":{"orient":"left","values":[2,3,4,5,6,7,8,9,20,30,40,50,60,70,80,90,200,300,400,500,600,700,800,900],"tickSize":-3,"domain":false,"labels":false,"title":null}},"y2":{"field":"b"}}},
{"mark":{"type":"rect","opacity":0},"encoding":{"x":{"field":"x","type":"quantitative","axis":null},"x2":{"field":"x2"},"y":{"field":"a","type":"quantitative","axis":{"orient":"right","values":[2,3,4,5,6,7,8,9,20,30,40,50,60,70,80,90,200,300,400,500,600,700,800,900],"tickSize":-3,"domain":false,"labels":false,"title":null}},"y2":{"field":"b"}}}
],"resolve":{"axis":{"x":"independent","y":"independent"}}},
{"width":419,"height":42,"layer":[
{"data":{"name":"l1"},"mark":{"type":"point","filled":true,"opacity":1,"size":30},"encoding":{"x":{"field":"x","type":"quantitative","scale":{"domain":[0,350],"nice":false},"axis":null},"y":{"field":"y","type":"quantitative","scale":{"domain":[0,1],"nice":false},"axis":null},"color":{"field":"s","type":"nominal","scale":{"domain":["N","G"],"range":["#0000cc","#22c8c8"]},"legend":null},"shape":{"field":"t","type":"nominal","scale":{"domain":["c","t"],"range":["circle","triangle-up"]},"legend":null}}},
{"data":{"name":"l1t"},"mark":{"type":"text","align":"left"},"encoding":{"x":{"field":"x","type":"quantitative","axis":null},"y":{"field":"y","type":"quantitative","axis":null},"text":{"field":"l"}}}
]},
{"width":21,"height":42,"data":{"name":"sp"},"mark":{"type":"point","opacity":0}},
{"width":419,"height":293,"layer":[
{"data":{"name":"h2"},"mark":{"type":"rect"},"encoding":{"x":{"field":"x","type":"quantitative","scale":{"domain":[0,350],"nice":false},"axis":{"values":[0,50,100,150,200,250,300,350],"title":"v sini [km/s]","labelPadding":9,"titlePadding":8}},"x2":{"field":"x2"},"y":{"field":"y","type":"quantitative","scale":{"domain":[6.65,8.1],"nice":false,"zero":false},"axis":{"values":[6.8,7,7.2,7.4,7.6,7.8,8],"format":"~g","title":"12 + log [N/H]","labelPadding":9,"titlePadding":23}},"y2":{"field":"y2"},"fill":{"field":"c","type":"ordinal","scale":{"domain":[0,1,2,3,4,5,6],"range":["#ffffff","#fff0a8","#ffe054","#ffd500","#ffa500","#ff7000","#ff4500"]},"legend":null}}},
{"data":{"name":"lines"},"transform":[{"filter":"datum.g=='vl'"}],"mark":{"type":"line","color":"#111","strokeWidth":1.3},"encoding":{"x":{"field":"v","type":"quantitative","axis":{"orient":"top","values":[0,50,100,150,200,250,300,350],"labels":false,"title":null}},"y":{"field":"n","type":"quantitative","axis":{"orient":"right","values":[6.8,7,7.2,7.4,7.6,7.8,8],"labels":false,"title":null}}}},
{"data":{"name":"lines"},"transform":[{"filter":"datum.g=='hl'"}],"mark":{"type":"line","color":"#111","strokeWidth":1.3},"encoding":{"x":{"field":"v","type":"quantitative","axis":null},"y":{"field":"n","type":"quantitative","axis":null}}},
{"data":{"name":"lines"},"transform":[{"filter":"datum.g=='curve'"}],"mark":{"type":"line","color":"#000","strokeWidth":1.8,"interpolate":"monotone"},"encoding":{"x":{"field":"v","type":"quantitative","axis":null},"y":{"field":"n","type":"quantitative","axis":null}}},
{"data":{"name":"lines"},"transform":[{"filter":"datum.g=='dl'"}],"mark":{"type":"line","color":"#000","strokeWidth":1.3,"strokeDash":[3.5,2.5]},"encoding":{"x":{"field":"v","type":"quantitative","axis":null},"y":{"field":"n","type":"quantitative","axis":null}}},
{"data":{"name":"lines"},"transform":[{"filter":"datum.g=='du'"}],"mark":{"type":"line","color":"#000","strokeWidth":1.3,"strokeDash":[3.5,2.5]},"encoding":{"x":{"field":"v","type":"quantitative","axis":null},"y":{"field":"n","type":"quantitative","axis":null}}},
{"data":{"name":"lines"},"transform":[{"filter":"datum.g=='ch'"}],"mark":{"type":"line","color":"#222","strokeWidth":0.8},"encoding":{"x":{"field":"v","type":"quantitative","axis":null},"y":{"field":"n","type":"quantitative","axis":null}}},
{"data":{"name":"lines"},"transform":[{"filter":"datum.g=='cv'"}],"mark":{"type":"line","color":"#222","strokeWidth":0.8},"encoding":{"x":{"field":"v","type":"quantitative","axis":null},"y":{"field":"n","type":"quantitative","axis":null}}},
{"data":{"name":"boxes"},"mark":{"type":"text"},"encoding":{"x":{"field":"v","type":"quantitative","axis":null},"y":{"field":"n","type":"quantitative","axis":null},"text":{"field":"l"}}},
{"data":{"name":"p2"},"transform":[{"filter":"isValid(datum.n2)"}],"mark":{"type":"rule","strokeWidth":1},"encoding":{"x":{"field":"v","type":"quantitative","axis":null},"y":{"field":"n","type":"quantitative","axis":null},"y2":{"field":"n2"},"color":{"field":"s","type":"nominal","scale":{"domain":["N","G"],"range":["#660011","#e03a48"]},"legend":null}}},
{"data":{"name":"p2"},"transform":[{"filter":"isValid(datum.n2)"}],"mark":{"type":"point","shape":"triangle-down","filled":true,"size":7,"opacity":1},"encoding":{"x":{"field":"v","type":"quantitative","axis":null},"y":{"field":"n2","type":"quantitative","axis":null},"color":{"field":"s","type":"nominal","legend":null}}},
{"data":{"name":"p2"},"mark":{"type":"point","filled":true,"opacity":1,"stroke":"#e8d8d8","strokeWidth":0.8,"size":38},"encoding":{"x":{"field":"v","type":"quantitative","axis":null},"y":{"field":"n","type":"quantitative","axis":null},"color":{"field":"s","type":"nominal","legend":null},"shape":{"field":"t","type":"nominal","scale":{"domain":["c","t"],"range":["circle","triangle-up"]},"legend":null}}},
{"data":{"name":"t2"},"mark":{"type":"text","align":"right"},"encoding":{"x":{"field":"v","type":"quantitative","axis":null},"y":{"field":"n","type":"quantitative","axis":null},"text":{"field":"l"}}},
{"data":{"name":"t2"},"mark":{"type":"text","align":"left","fontSize":10,"dx":1,"dy":5},"encoding":{"x":{"field":"v","type":"quantitative","axis":null},"y":{"field":"n","type":"quantitative","axis":null},"text":{"value":"sun"}}}
],"resolve":{"axis":{"x":"independent","y":"independent"}}},
{"width":21,"height":293,"data":{"name":"bands"},"layer":[
{"mark":{"type":"rect"},"encoding":{"x":{"field":"x","type":"quantitative","scale":{"domain":[0,1],"nice":false},"axis":{"orient":"bottom","ticks":false,"labels":false,"title":null}},"x2":{"field":"x2"},"y":{"field":"a","type":"quantitative","scale":{"type":"log","domain":[1,1000],"nice":false},"axis":{"orient":"right","values":[1,10,100,1000],"format":"d","tickSize":-6,"labelPadding":20,"title":"Number of simulated stars per bin","titleFontSize":15,"titleAngle":270,"titlePadding":6}},"y2":{"field":"b"},"fill":{"field":"c","type":"ordinal","scale":{"domain":[0,1,2,3,4,5,6],"range":["#ffffff","#fff0a8","#ffe054","#ffd500","#ffa500","#ff7000","#ff4500"]},"legend":null}}},
{"mark":{"type":"rect","opacity":0},"encoding":{"x":{"field":"x","type":"quantitative","axis":{"orient":"top","ticks":false,"labels":false,"title":null}},"x2":{"field":"x2"},"y":{"field":"a","type":"quantitative","axis":{"orient":"left","values":[1,10,100,1000],"tickSize":-6,"labels":false,"title":null}},"y2":{"field":"b"}}},
{"mark":{"type":"rect","opacity":0},"encoding":{"x":{"field":"x","type":"quantitative","axis":null},"x2":{"field":"x2"},"y":{"field":"a","type":"quantitative","axis":{"orient":"left","values":[2,3,4,5,6,7,8,9,20,30,40,50,60,70,80,90,200,300,400,500,600,700,800,900],"tickSize":-3,"domain":false,"labels":false,"title":null}},"y2":{"field":"b"}}},
{"mark":{"type":"rect","opacity":0},"encoding":{"x":{"field":"x","type":"quantitative","axis":null},"x2":{"field":"x2"},"y":{"field":"a","type":"quantitative","axis":{"orient":"right","values":[2,3,4,5,6,7,8,9,20,30,40,50,60,70,80,90,200,300,400,500,600,700,800,900],"tickSize":-3,"domain":false,"labels":false,"title":null}},"y2":{"field":"b"}}}
],"resolve":{"axis":{"x":"independent","y":"independent"}}},
{"width":419,"height":65.4,"layer":[
{"data":{"name":"l2"},"mark":{"type":"point","filled":true,"opacity":1,"size":30},"encoding":{"x":{"field":"x","type":"quantitative","scale":{"domain":[0,350],"nice":false},"axis":null},"y":{"field":"y","type":"quantitative","scale":{"domain":[0,1],"nice":false},"axis":null},"color":{"field":"s","type":"nominal","scale":{"domain":["N","G"],"range":["#660011","#e03a48"]},"legend":null},"shape":{"field":"t","type":"nominal","scale":{"domain":["c","t"],"range":["circle","triangle-up"]},"legend":null}}},
{"data":{"name":"l2t"},"mark":{"type":"text","align":"left"},"encoding":{"x":{"field":"x","type":"quantitative","axis":null},"y":{"field":"y","type":"quantitative","axis":null},"text":{"field":"l"}}}
]},
{"width":21,"height":65.4,"data":{"name":"sp"},"mark":{"type":"point","opacity":0}},
{"width":419,"height":293,"layer":[
{"data":{"name":"h3"},"mark":{"type":"rect"},"encoding":{"x":{"field":"x","type":"quantitative","scale":{"domain":[0,350],"nice":false},"axis":{"values":[0,50,100,150,200,250,300,350],"title":"v sini [km/s]","labelPadding":9,"titlePadding":8}},"x2":{"field":"x2"},"y":{"field":"y","type":"quantitative","scale":{"domain":[6.65,8.1],"nice":false,"zero":false},"axis":{"values":[6.8,7,7.2,7.4,7.6,7.8,8],"format":"~g","title":"12 + log [N/H]","labelPadding":9,"titlePadding":23}},"y2":{"field":"y2"},"fill":{"field":"c","type":"ordinal","scale":{"domain":[0,1,2,3,4,5,6],"range":["#ffffff","#fff0a8","#ffe054","#ffd500","#ffa500","#ff7000","#ff4500"]},"legend":null}}},
{"data":{"name":"lines"},"transform":[{"filter":"datum.g=='vl'"}],"mark":{"type":"line","color":"#111","strokeWidth":1.3},"encoding":{"x":{"field":"v","type":"quantitative","axis":{"orient":"top","values":[0,50,100,150,200,250,300,350],"labels":false,"title":null}},"y":{"field":"n","type":"quantitative","axis":{"orient":"right","values":[6.8,7,7.2,7.4,7.6,7.8,8],"labels":false,"title":null}}}},
{"data":{"name":"lines"},"transform":[{"filter":"datum.g=='hl'"}],"mark":{"type":"line","color":"#111","strokeWidth":1.3},"encoding":{"x":{"field":"v","type":"quantitative","axis":null},"y":{"field":"n","type":"quantitative","axis":null}}},
{"data":{"name":"lines"},"transform":[{"filter":"datum.g=='curve'"}],"mark":{"type":"line","color":"#000","strokeWidth":1.8,"interpolate":"monotone"},"encoding":{"x":{"field":"v","type":"quantitative","axis":null},"y":{"field":"n","type":"quantitative","axis":null}}},
{"data":{"name":"lines"},"transform":[{"filter":"datum.g=='dl'"}],"mark":{"type":"line","color":"#000","strokeWidth":1.3,"strokeDash":[3.5,2.5]},"encoding":{"x":{"field":"v","type":"quantitative","axis":null},"y":{"field":"n","type":"quantitative","axis":null}}},
{"data":{"name":"lines"},"transform":[{"filter":"datum.g=='du'"}],"mark":{"type":"line","color":"#000","strokeWidth":1.3,"strokeDash":[3.5,2.5]},"encoding":{"x":{"field":"v","type":"quantitative","axis":null},"y":{"field":"n","type":"quantitative","axis":null}}},
{"data":{"name":"boxes"},"mark":{"type":"text"},"encoding":{"x":{"field":"v","type":"quantitative","axis":null},"y":{"field":"n","type":"quantitative","axis":null},"text":{"field":"l"}}},
{"data":{"name":"p3"},"transform":[{"filter":"isValid(datum.n2)"}],"mark":{"type":"rule","strokeWidth":1,"color":"#000"},"encoding":{"x":{"field":"v","type":"quantitative","axis":null},"y":{"field":"n","type":"quantitative","axis":null},"y2":{"field":"n2"}}},
{"data":{"name":"p3"},"transform":[{"filter":"isValid(datum.n2)"}],"mark":{"type":"point","shape":"triangle-down","filled":true,"size":7,"opacity":1,"color":"#000"},"encoding":{"x":{"field":"v","type":"quantitative","axis":null},"y":{"field":"n2","type":"quantitative","axis":null}}},
{"data":{"name":"p3"},"mark":{"type":"point","filled":true,"opacity":1,"size":30,"color":"#000"},"encoding":{"x":{"field":"v","type":"quantitative","axis":null},"y":{"field":"n","type":"quantitative","axis":null},"shape":{"field":"t","type":"nominal","scale":{"domain":["c","t"],"range":["circle","triangle-up"]},"legend":null}}},
{"data":{"name":"t3"},"mark":{"type":"text","align":"right"},"encoding":{"x":{"field":"v","type":"quantitative","axis":null},"y":{"field":"n","type":"quantitative","axis":null},"text":{"field":"l"}}},
{"data":{"name":"t3"},"mark":{"type":"text","align":"left","fontSize":10,"dx":1,"dy":5},"encoding":{"x":{"field":"v","type":"quantitative","axis":null},"y":{"field":"n","type":"quantitative","axis":null},"text":{"value":"sun"}}}
],"resolve":{"axis":{"x":"independent","y":"independent"}}},
{"width":21,"height":293,"data":{"name":"bands"},"layer":[
{"mark":{"type":"rect"},"encoding":{"x":{"field":"x","type":"quantitative","scale":{"domain":[0,1],"nice":false},"axis":{"orient":"bottom","ticks":false,"labels":false,"title":null}},"x2":{"field":"x2"},"y":{"field":"a","type":"quantitative","scale":{"type":"log","domain":[1,1000],"nice":false},"axis":{"orient":"right","values":[1,10,100,1000],"format":"d","tickSize":-6,"labelPadding":20,"title":"Number of simulated stars per bin","titleFontSize":15,"titleAngle":270,"titlePadding":6}},"y2":{"field":"b"},"fill":{"field":"c","type":"ordinal","scale":{"domain":[0,1,2,3,4,5,6],"range":["#ffffff","#fff0a8","#ffe054","#ffd500","#ffa500","#ff7000","#ff4500"]},"legend":null}}},
{"mark":{"type":"rect","opacity":0},"encoding":{"x":{"field":"x","type":"quantitative","axis":{"orient":"top","ticks":false,"labels":false,"title":null}},"x2":{"field":"x2"},"y":{"field":"a","type":"quantitative","axis":{"orient":"left","values":[1,10,100,1000],"tickSize":-6,"labels":false,"title":null}},"y2":{"field":"b"}}},
{"mark":{"type":"rect","opacity":0},"encoding":{"x":{"field":"x","type":"quantitative","axis":null},"x2":{"field":"x2"},"y":{"field":"a","type":"quantitative","axis":{"orient":"left","values":[2,3,4,5,6,7,8,9,20,30,40,50,60,70,80,90,200,300,400,500,600,700,800,900],"tickSize":-3,"domain":false,"labels":false,"title":null}},"y2":{"field":"b"}}},
{"mark":{"type":"rect","opacity":0},"encoding":{"x":{"field":"x","type":"quantitative","axis":null},"x2":{"field":"x2"},"y":{"field":"a","type":"quantitative","axis":{"orient":"right","values":[2,3,4,5,6,7,8,9,20,30,40,50,60,70,80,90,200,300,400,500,600,700,800,900],"tickSize":-3,"domain":false,"labels":false,"title":null}},"y2":{"field":"b"}}}
],"resolve":{"axis":{"x":"independent","y":"independent"}}},
{"width":419,"height":40,"layer":[
{"data":{"name":"l3"},"mark":{"type":"point","filled":true,"opacity":1,"size":30,"color":"#000"},"encoding":{"x":{"field":"x","type":"quantitative","scale":{"domain":[0,350],"nice":false},"axis":null},"y":{"field":"y","type":"quantitative","scale":{"domain":[0,1],"nice":false},"axis":null},"shape":{"field":"t","type":"nominal","scale":{"domain":["c","t"],"range":["circle","triangle-up"]},"legend":null}}},
{"data":{"name":"l3t"},"mark":{"type":"text","align":"left"},"encoding":{"x":{"field":"x","type":"quantitative","axis":null},"y":{"field":"y","type":"quantitative","axis":null},"text":{"field":"l"}}}
]},
{"width":21,"height":40,"data":{"name":"sp"},"mark":{"type":"point","opacity":0}}
]}
